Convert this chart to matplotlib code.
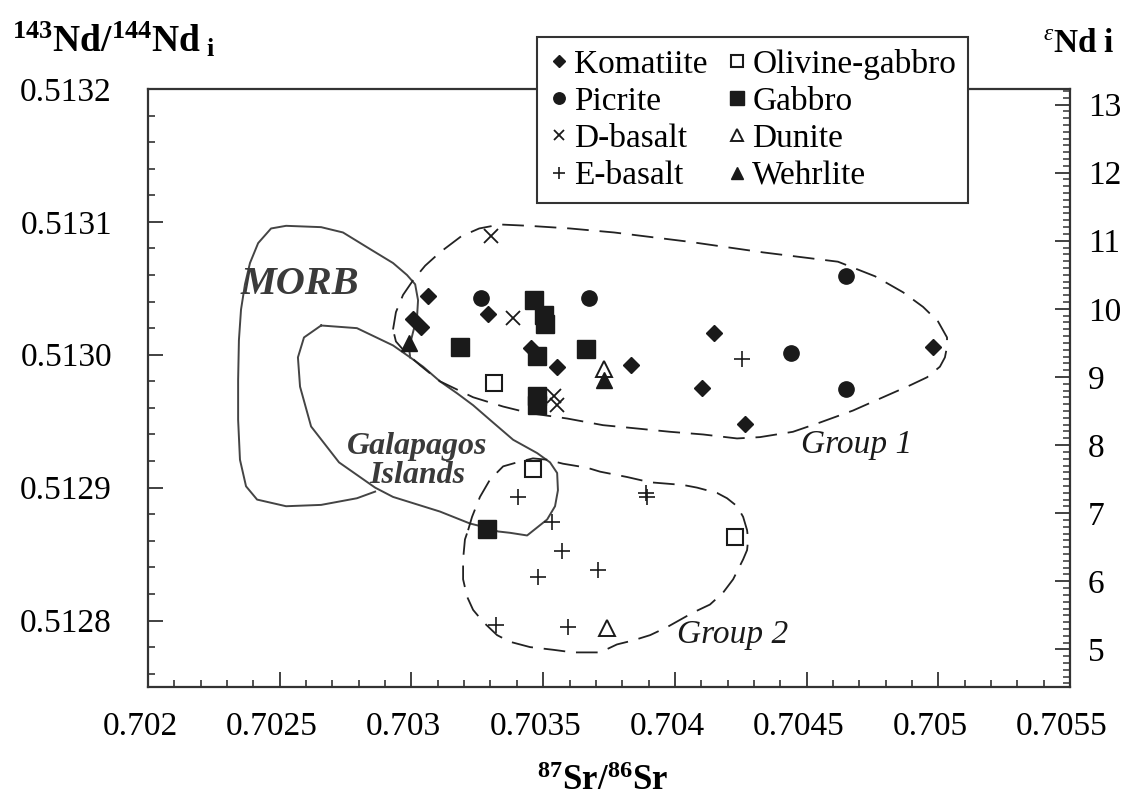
import matplotlib
matplotlib.use('Agg')
import matplotlib.pyplot as plt
from matplotlib.ticker import MultipleLocator, FixedLocator, FuncFormatter
from matplotlib.transforms import ScaledTranslation

plt.rcParams['font.family'] = 'Liberation Serif'
plt.rcParams['mathtext.fontset'] = 'custom'
plt.rcParams['mathtext.rm'] = 'Liberation Serif'
plt.rcParams['mathtext.it'] = 'Liberation Serif:italic'
plt.rcParams['mathtext.bf'] = 'Liberation Serif:bold'

# CHUR 143Nd/144Nd at the age of the suite, used for the epsilon scale
CHUR_T = 0.512522

# --- samples: 87Sr/86Sr (sr) and initial 143Nd/144Nd (nd) ---
komatiite_sr = [0.703064, 0.703005, 0.703036, 0.703292, 0.703453, 0.703554,
                0.703832, 0.704149, 0.704102, 0.704266, 0.704981]
komatiite_nd = [0.513044, 0.513027, 0.513021, 0.513031, 0.513005, 0.512991,
                0.512992, 0.513016, 0.512975, 0.512948, 0.513006]

picrite_sr = [0.703264, 0.703674, 0.704648, 0.704440, 0.704648]
picrite_nd = [0.513043, 0.513043, 0.513059, 0.513001, 0.512974]

dbasalt_sr = [0.703302, 0.703387, 0.703542, 0.703551]
dbasalt_nd = [0.513089, 0.513028, 0.512969, 0.512962]

ebasalt_sr = [0.704254, 0.703403, 0.703532, 0.703889, 0.703894, 0.703573,
              0.703707, 0.703479, 0.703320, 0.703593]
ebasalt_nd = [0.512997, 0.512893, 0.512874, 0.512896, 0.512893, 0.512852,
              0.512838, 0.512833, 0.512797, 0.512795]

olgabbro_sr = [0.703313, 0.703463, 0.704228]
olgabbro_nd = [0.512979, 0.512914, 0.512863]

gabbro_sr = [0.703465, 0.703504, 0.703507, 0.703184, 0.703476, 0.703662,
             0.703476, 0.703476, 0.703286]
gabbro_nd = [0.513041, 0.513030, 0.513023, 0.513006, 0.512999, 0.513004,
             0.512969, 0.512962, 0.512869]

dunite_sr = [0.703732, 0.703741]
dunite_nd = [0.512989, 0.512794]

wehrlite_sr = [0.702992, 0.703732]
wehrlite_nd = [0.513009, 0.512981]

eps_ticks = [5, 6, 7, 8, 9, 10, 11, 12, 13]

# --- field outlines ---
morb_sr = [0.702862, 0.702793, 0.702657, 0.702524, 0.702414, 0.702372, 0.702349,
           0.702342, 0.702342, 0.702345, 0.702353, 0.702368, 0.702387, 0.702418,
           0.702467, 0.702524, 0.702657, 0.702740, 0.702847, 0.702930, 0.702983,
           0.703014, 0.703025, 0.703021, 0.703006, 0.702991, 0.702995]
morb_nd = [0.512897, 0.512892, 0.512887, 0.512886, 0.512891, 0.512901, 0.512921,
           0.512951, 0.512981, 0.513011, 0.513034, 0.513053, 0.513069, 0.513084,
           0.513095, 0.513097, 0.513096, 0.513092, 0.513079, 0.513069, 0.513060,
           0.513053, 0.513041, 0.513028, 0.513017, 0.513005, 0.512998]

galapagos_sr = [0.702657, 0.702793, 0.702930, 0.702995, 0.703044, 0.703108, 0.703173,
                0.703234, 0.703298, 0.703386, 0.703477, 0.703526, 0.703553, 0.703556,
                0.703545, 0.703515, 0.703477, 0.703439, 0.703374, 0.703329, 0.703283,
                0.703222, 0.703108, 0.702930, 0.702862, 0.702725, 0.702619, 0.702577,
                0.702569, 0.702592, 0.702657]
galapagos_nd = [0.513022, 0.513020, 0.513007, 0.512998, 0.512991, 0.512980, 0.512971,
                0.512962, 0.512951, 0.512936, 0.512926, 0.512919, 0.512911, 0.512898,
                0.512886, 0.512876, 0.512870, 0.512864, 0.512866, 0.512867, 0.512870,
                0.512873, 0.512882, 0.512893, 0.512900, 0.512919, 0.512946, 0.512976,
                0.512998, 0.513013, 0.513022]

group1_sr = [0.702930, 0.702941, 0.702968, 0.703006, 0.703052, 0.703108, 0.703188,
             0.703257, 0.703336, 0.703446, 0.703602, 0.703769, 0.704054, 0.704335,
             0.704619, 0.704760, 0.704866, 0.704942, 0.704999, 0.705033, 0.705033,
             0.705025, 0.705006, 0.704957, 0.704893, 0.704767, 0.704676, 0.704551,
             0.704448, 0.704323, 0.704236, 0.704107, 0.703982, 0.703830, 0.703727,
             0.703591, 0.703450, 0.703348, 0.703234, 0.703108, 0.703033, 0.702976,
             0.702941, 0.702930]
group1_nd = [0.513019, 0.513032, 0.513045, 0.513056, 0.513067, 0.513077, 0.513089,
             0.513095, 0.513098, 0.513097, 0.513095, 0.513092, 0.513085, 0.513077,
             0.513070, 0.513059, 0.513047, 0.513036, 0.513025, 0.513013, 0.513006,
             0.512998, 0.512991, 0.512983, 0.512977, 0.512966, 0.512958, 0.512949,
             0.512942, 0.512938, 0.512937, 0.512940, 0.512942, 0.512945, 0.512947,
             0.512952, 0.512956, 0.512961, 0.512968, 0.512980, 0.512992, 0.513002,
             0.513010, 0.513019]

group2_sr = [0.703215, 0.703230, 0.703260, 0.703298, 0.703348, 0.703401, 0.703461,
             0.703515, 0.703575, 0.703666, 0.703716, 0.703818, 0.703906, 0.704031,
             0.704084, 0.704160, 0.704198, 0.704236, 0.704259, 0.704274, 0.704278,
             0.704274, 0.704259, 0.704221, 0.704183, 0.704133, 0.704069, 0.703970,
             0.703906, 0.703841, 0.703780, 0.703716, 0.703666, 0.703613, 0.703537,
             0.703450, 0.703374, 0.703325, 0.703272, 0.703234, 0.703211, 0.703196,
             0.703196, 0.703203, 0.703215]
group2_nd = [0.512868, 0.512878, 0.512893, 0.512906, 0.512916, 0.512919, 0.512922,
             0.512921, 0.512918, 0.512915, 0.512912, 0.512908, 0.512904, 0.512902,
             0.512900, 0.512896, 0.512892, 0.512886, 0.512878, 0.512868, 0.512861,
             0.512853, 0.512846, 0.512831, 0.512821, 0.512812, 0.512806, 0.512795,
             0.512789, 0.512785, 0.512782, 0.512776, 0.512776, 0.512776, 0.512778,
             0.512780, 0.512784, 0.512789, 0.512799, 0.512808, 0.512818, 0.512831,
             0.512846, 0.512861, 0.512868]

INK = '#1a1a1a'
SERIF = 'Liberation Serif'

fig = plt.figure(figsize=(11.24, 8.10), dpi=100)
ax = fig.add_axes([0.1317, 0.1519, 0.8203, 0.7383])

# outlines of the reference fields and sample groups
ax.plot(morb_sr, morb_nd, color='#444444', lw=1.4, zorder=2)
ax.plot(galapagos_sr, galapagos_nd, color='#444444', lw=1.4, zorder=2)
ax.plot(group1_sr, group1_nd, color='#222222', lw=1.3, ls=(0, (12, 6)), zorder=2)
ax.plot(group2_sr, group2_nd, color='#222222', lw=1.3, ls=(0, (12, 6)), zorder=2)

# sample symbols
h_kom, = ax.plot(komatiite_sr, komatiite_nd, ls='none', marker='D', ms=8.5,
                 color=INK, label='Komatiite', zorder=4)
h_pic, = ax.plot(picrite_sr, picrite_nd, ls='none', marker='o', ms=11,
                 color=INK, label='Picrite', zorder=4)
h_db, = ax.plot(dbasalt_sr, dbasalt_nd, ls='none', marker='x', ms=10, mew=1.3,
                color=INK, label='D-basalt', zorder=4)
h_eb, = ax.plot(ebasalt_sr, ebasalt_nd, ls='none', marker='+', ms=11, mew=1.2,
                color=INK, label='E-basalt', zorder=4)
h_og, = ax.plot(olgabbro_sr, olgabbro_nd, ls='none', marker='s', ms=11, mew=1.5,
                mfc='white', mec=INK, label='Olivine-gabbro', zorder=4)
h_gb, = ax.plot(gabbro_sr, gabbro_nd, ls='none', marker='s', ms=13,
                color=INK, label='Gabbro', zorder=4)
h_dun, = ax.plot(dunite_sr, dunite_nd, ls='none', marker='^', ms=12, mew=1.4,
                 mfc='white', mec=INK, label='Dunite', zorder=4)
h_weh, = ax.plot(wehrlite_sr, wehrlite_nd, ls='none', marker='^', ms=12,
                 color=INK, label='Wehrlite', zorder=4)

# field labels
ax.text(0.702577, 0.5130525, 'MORB', fontsize=29, fontweight='bold', style='italic',
        color='#3a3a3a', ha='center', va='center')
ax.text(0.703021, 0.512920, 'Galapagos\nIslands', fontsize=23, fontweight='bold',
        style='italic', color='#3a3a3a', ha='center', va='center', linespacing=1.0)
ax.text(0.704691, 0.512932, 'Group 1', fontsize=24, style='italic', color=INK,
        ha='center', va='center')
ax.text(0.704221, 0.512789, 'Group 2', fontsize=24, style='italic', color=INK,
        ha='center', va='center')

ax.set_xlim(0.702, 0.7055)
ax.set_ylim(0.51275, 0.5132)

ax.xaxis.set_major_locator(MultipleLocator(0.0005))
ax.xaxis.set_minor_locator(MultipleLocator(0.0001))
ax.yaxis.set_major_locator(MultipleLocator(0.0001))
ax.yaxis.set_minor_locator(MultipleLocator(0.00002))
ax.xaxis.set_major_formatter(FuncFormatter(lambda v, p: ('%.4f' % v).rstrip('0')))
ax.yaxis.set_major_formatter(FuncFormatter(lambda v, p: '%.4f' % v))

ax.tick_params(which='both', direction='in', top=False, right=False, color='#333333')
ax.tick_params(which='major', length=11, width=1.3)
ax.tick_params(which='minor', length=5, width=1.2)
ax.tick_params(axis='y', pad=26, labelsize=24)
ax.tick_params(axis='x', pad=18, labelsize=24)

for side in ['left', 'bottom', 'top']:
    ax.spines[side].set_color('#333333')
    ax.spines[side].set_linewidth(1.6)
ax.spines['right'].set_visible(False)

# x labels in the original layout sit a little left of their ticks
shift = ScaledTranslation(-0.08, 0, fig.dpi_scale_trans)
for tick in ax.xaxis.get_major_ticks():
    tick.label1.set_transform(tick.label1.get_transform() + shift)


def nd_to_eps(r):
    return (r / CHUR_T - 1.0) * 1e4


def eps_to_nd(e):
    return (e / 1e4 + 1.0) * CHUR_T


sec = ax.secondary_yaxis('right', functions=(nd_to_eps, eps_to_nd))
sec.yaxis.set_major_locator(FixedLocator(eps_ticks))
sec.yaxis.set_minor_locator(MultipleLocator(0.1))
sec.yaxis.set_major_formatter(FuncFormatter(lambda v, p: '%d' % round(v)))
sec.tick_params(which='both', direction='in', color='#333333')
sec.tick_params(which='major', length=11, width=1.3, labelsize=24, pad=13)
sec.tick_params(which='minor', length=5, width=1.1)
sec.spines['right'].set_color('#333333')
sec.spines['right'].set_linewidth(1.6)

# axis titles
fig.text(12 / 1124, 1 - 40 / 810, r'$\mathbf{^{143}Nd/^{144}Nd_{\ i}}$',
         fontsize=27, ha='left', va='center')
fig.text(1043 / 1124, 1 - 44 / 810, r'$^{\varepsilon}\mathbf{Nd\ i}$',
         fontsize=24, ha='left', va='center')
fig.text(603 / 1124, 1 - 782 / 810, r'$\mathbf{^{87}Sr/^{86}Sr}$',
         fontsize=25, ha='center', va='center')

leg = ax.legend(handles=[h_kom, h_pic, h_db, h_eb, h_og, h_gb, h_dun, h_weh],
                ncol=2, loc='upper left', bbox_to_anchor=(537 / 1124, 1 - 37 / 810),
                bbox_transform=fig.transFigure, frameon=True, fancybox=False,
                edgecolor='#333333', framealpha=1,
                prop={'family': SERIF, 'size': 24}, handlelength=0.6,
                handletextpad=0.15, columnspacing=0.6, labelspacing=0.2,
                borderpad=0.35, borderaxespad=0, markerscale=0.75)
leg.get_frame().set_linewidth(1.5)
leg.set_zorder(10)

fig.savefig('out.png', dpi=100)
